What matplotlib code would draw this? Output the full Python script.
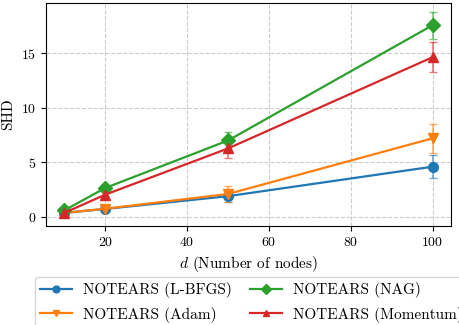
import matplotlib
matplotlib.use("Agg")
import matplotlib.pyplot as plt

nodes = [10, 20, 50, 100]

labels = ["NOTEARS (L-BFGS)", "NOTEARS (Adam)", "NOTEARS (NAG)", "NOTEARS (Momentum)"]
shd_lbfgs = [0.37, 0.73, 1.9, 4.6]
err_lbfgs = [0.1, 0.15, 0.5, 1.05]
shd_adam = [0.37, 0.75, 2.1, 7.2]
err_adam = [0.1, 0.2, 0.7, 1.3]
shd_nag = [0.6, 2.65, 7.0, 17.56]
err_nag = [0.1, 0.2, 0.8, 1.25]
shd_mom = [0.37, 2.04, 6.27, 14.63]
err_mom = [0.1, 0.2, 0.85, 1.4]

plt.rcParams["font.family"] = "serif"
plt.rcParams["font.serif"] = ["cmr10"]
plt.rcParams["mathtext.fontset"] = "cm"
plt.rcParams["axes.formatter.use_mathtext"] = True

fig = plt.figure(figsize=(4.59, 3.25), dpi=100)
ax = fig.add_axes([0.1, 0.305, 0.8826, 0.686])

series = [
    (shd_lbfgs, err_lbfgs, "o", "#1f77b4"),
    (shd_adam, err_adam, "v", "#ff7f0e"),
    (shd_nag, err_nag, "D", "#2ca02c"),
    (shd_mom, err_mom, "^", "#d62728"),
]
handles = []
for (ys, es, m, c), lab in zip(series, labels):
    line, caps, bars = ax.errorbar(nodes, ys, yerr=es, marker=m, color=c,
                                   markersize=7, linewidth=1.6, capsize=3,
                                   elinewidth=1.2, label=lab)
    for cap in caps:
        cap.set_alpha(0.6)
    for b in bars:
        b.set_alpha(0.6)
    handles.append(line)

ax.set_xlabel(r"$d$ (Number of nodes)", fontsize=11)
ax.set_ylabel("SHD", fontsize=11)
ax.set_yticks([0, 5, 10, 15])
ax.set_xticks([20, 40, 60, 80, 100])
ax.tick_params(labelsize=10)
ax.set_ylim(-0.82, 19.6)
ax.grid(True, linestyle="--", color="#cccccc", linewidth=0.8)

fig.legend(handles, labels, ncol=2, loc="upper left",
           bbox_to_anchor=(0.076, 0.148), borderaxespad=0, borderpad=0.35,
           fontsize=11, frameon=True, handlelength=2.1, handletextpad=0.7,
           columnspacing=1.2, labelspacing=0.55, markerscale=0.7)

fig.savefig("out.png", dpi=100)
